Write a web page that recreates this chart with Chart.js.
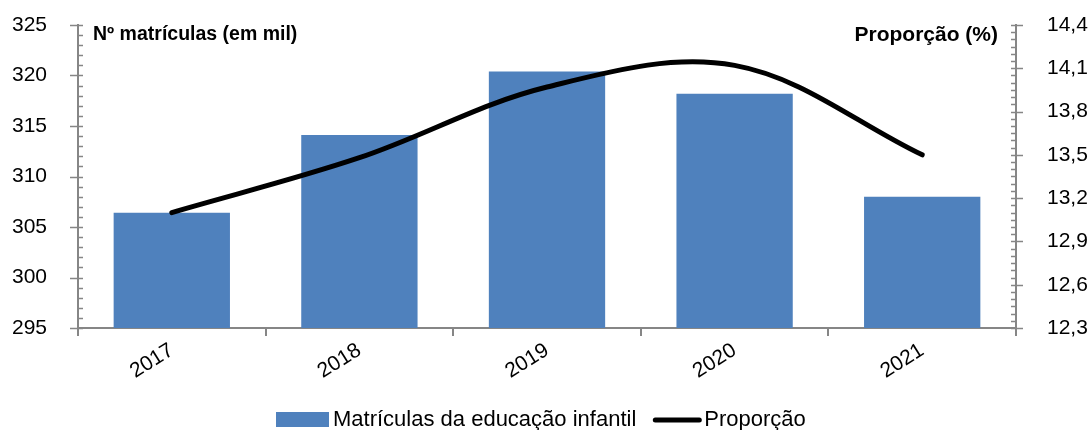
<!DOCTYPE html>
<html lang="pt">
<head>
<meta charset="utf-8">
<title>Matrículas da educação infantil</title>
<script src="https://cdn.jsdelivr.net/npm/chart.js@4.4.1/dist/chart.umd.min.js"></script>
<style>
    html, body { margin: 0; padding: 0; background: #fff; }
    #wrap { width: 1091px; height: 430px; }
</style>
</head>
<body>
<div id="wrap"><canvas id="chart" width="1091" height="430"></canvas></div>
<script>
// Data
const years = ['2017', '2018', '2019', '2020', '2021'];
const enrolments = [306.4, 314.1, 320.4, 318.2, 308.0];   // Nº matrículas (em mil)
const share = [13.10, 13.48, 13.97, 14.12, 13.50];        // Proporção (%)
const leftTicks = [295, 300, 305, 310, 315, 320, 325];
const rightTicks = [12.3, 12.6, 12.9, 13.2, 13.5, 13.8, 14.1, 14.4];

const seriesNames = ['Matrículas da educação infantil', 'Proporção'];
const axisTitles = ['Nº matrículas (em mil)', 'Proporção (%)'];

const FONT = "'Liberation Sans', Arial, sans-serif";
const BLUE = '#4F81BD';
const GREY = '#868686';

// Minor/major tick marks on both value axes (Excel style)
const axisTicks = {
    id: 'axisTicks',
    afterDraw(chart) {
        const { ctx, chartArea } = chart;
        const y = chart.scales.y;
        const y1 = chart.scales.y1;
        const lx = chartArea.left;
        const rx = chartArea.right;
        ctx.save();
        ctx.strokeStyle = GREY;
        ctx.lineWidth = 1.5;
        ctx.beginPath();

        const leftStep = leftTicks[1] - leftTicks[0];
        const nl = Math.round(y.max - y.min);
        for (let i = 0; i <= nl; i++) {
            const py = Math.round(y.getPixelForValue(y.min + i)) + 0.5;
            const major = i % leftStep === 0;
            ctx.moveTo(major ? lx - 8 : lx, py);
            ctx.lineTo(lx + 5, py);
        }

        const nr = Math.round((y1.max - y1.min) / 0.05);
        for (let i = 0; i <= nr; i++) {
            const py = Math.round(y1.getPixelForValue(y1.min + i * 0.05)) + 0.5;
            const major = i % 6 === 0;
            ctx.moveTo(rx - 5, py);
            ctx.lineTo(major ? rx + 7 : rx, py);
        }
        ctx.stroke();
        ctx.restore();
    }
};

// Axis titles inside the plot + legend at the bottom
const labelsPlugin = {
    id: 'labelsPlugin',
    afterDraw(chart) {
        const { ctx, chartArea } = chart;
        ctx.save();
        ctx.fillStyle = '#000';
        ctx.textBaseline = 'middle';
        ctx.textAlign = 'left';
        ctx.font = `bold 19.5px ${FONT}`;
        ctx.fillText(axisTitles[0], chartArea.left + 15, chartArea.top + 10);
        ctx.textAlign = 'right';
        ctx.font = `bold 21px ${FONT}`;
        ctx.fillText(axisTitles[1], chartArea.right - 18, chartArea.top + 10);

        // legend
        const ly = 420;
        let x = 276;
        ctx.font = `22px ${FONT}`;
        ctx.textAlign = 'left';
        ctx.fillStyle = BLUE;
        ctx.fillRect(x, ly - 8, 53, 15);
        x += 57;
        ctx.fillStyle = '#000';
        ctx.fillText(seriesNames[0], x, ly);
        x += ctx.measureText(seriesNames[0]).width + 17;
        ctx.strokeStyle = '#000';
        ctx.lineWidth = 5;
        ctx.lineCap = 'round';
        ctx.beginPath();
        ctx.moveTo(x + 2, ly);
        ctx.lineTo(x + 46, ly);
        ctx.stroke();
        x += 51;
        ctx.fillText(seriesNames[1], x, ly);
        ctx.restore();
    }
};

const fmt = v => Number(v).toFixed(1).replace('.', ',');
const noVertPad = scale => { scale.paddingTop = 0; scale.paddingBottom = 0; };

new Chart(document.getElementById('chart'), {
    data: {
        labels: years,
        datasets: [
            {
                type: 'line',
                label: seriesNames[1],
                data: share,
                yAxisID: 'y1',
                borderColor: '#000',
                borderWidth: 5,
                borderCapStyle: 'round',
                tension: 0.35,
                pointRadius: 0,
                fill: false,
                order: 0
            },
            {
                type: 'bar',
                label: seriesNames[0],
                data: enrolments,
                yAxisID: 'y',
                backgroundColor: BLUE,
                barPercentage: 0.62,
                categoryPercentage: 1,
                order: 1
            }
        ]
    },
    options: {
        responsive: false,
        animation: false,
        devicePixelRatio: 1,
        layout: { padding: { top: 25, left: 0, right: 0, bottom: 0 } },
        plugins: {
            legend: { display: false },
            tooltip: { enabled: false }
        },
        scales: {
            x: {
                offset: true,
                grid: { display: true, drawOnChartArea: false, offset: true, tickLength: 8, color: GREY, lineWidth: 2 },
                border: { display: true, color: GREY, width: 2 },
                ticks: {
                    color: '#000',
                    font: { family: FONT, size: 21 },
                    maxRotation: 32,
                    minRotation: 32,
                    padding: 2
                },
                afterFit(scale) { scale.height = 102; }
            },
            y: {
                position: 'left',
                min: leftTicks[0],
                max: leftTicks[leftTicks.length - 1],
                grid: { display: true, drawOnChartArea: false, drawTicks: false },
                border: { display: true, color: GREY, width: 2 },
                ticks: {
                    stepSize: leftTicks[1] - leftTicks[0],
                    color: '#000',
                    font: { family: FONT, size: 21 },
                    padding: 31
                },
                afterFit(scale) { scale.width = 78; noVertPad(scale); }
            },
            y1: {
                position: 'right',
                min: rightTicks[0],
                max: rightTicks[rightTicks.length - 1],
                grid: { display: true, drawOnChartArea: false, drawTicks: false },
                border: { display: true, color: GREY, width: 2 },
                ticks: {
                    color: '#000',
                    font: { family: FONT, size: 21 },
                    padding: 31,
                    callback: v => fmt(v)
                },
                afterBuildTicks(scale) {
                    scale.ticks = rightTicks.map(v => ({ value: v }));
                },
                afterFit(scale) { scale.width = 75; noVertPad(scale); }
            }
        }
    },
    plugins: [axisTicks, labelsPlugin]
});
</script>
</body>
</html>
